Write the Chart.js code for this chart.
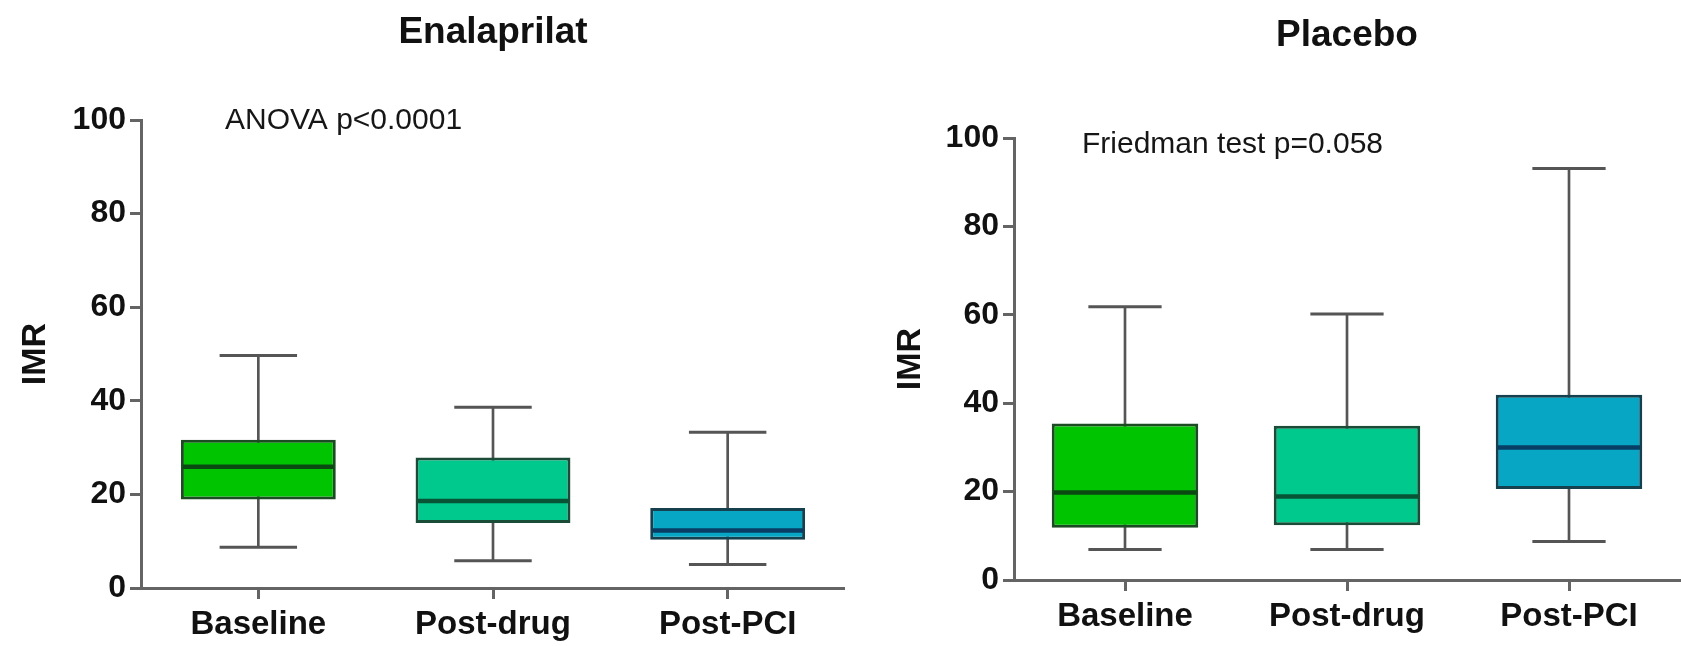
<!DOCTYPE html>
<html>
<head>
<meta charset="utf-8">
<script src="https://cdn.jsdelivr.net/npm/chart.js@4.4.1/dist/chart.umd.min.js"></script>
<style>
  html, body { margin: 0; padding: 0; background: #fff; overflow: hidden; }
  #wrap { position: relative; width: 1681px; height: 646px; }
  canvas { position: absolute; top: 0; }
</style>
</head>
<body>
<div id="wrap">
  <canvas id="enalaprilat" width="845" height="646" style="left:0px"></canvas>
  <canvas id="placebo" width="831" height="646" style="left:850px"></canvas>
</div>
<script>
// Categories and tick values
const categories = ['Baseline', 'Post-drug', 'Post-PCI'];
const yTickValues = [0, 20, 40, 60, 80, 100];

// Enalaprilat group: whisker ends, quartiles and median (IMR)
const enalLow    = [8.7, 5.8, 5.0];
const enalQ1     = [18.9, 13.9, 10.3];
const enalMedian = [25.9, 18.6, 12.3];
const enalQ3     = [31.7, 27.9, 17.1];
const enalHigh   = [49.7, 38.6, 33.3];

// Placebo group
const placLow    = [6.9, 6.9, 8.7];
const placQ1     = [11.8, 12.4, 20.6];
const placMedian = [19.8, 18.9, 30.0];
const placQ3     = [35.4, 34.9, 41.9];
const placHigh   = [61.8, 60.2, 93.1];

const FONT = "'Liberation Sans', Arial, Helvetica, sans-serif";
const boxFill   = ['#00c400', '#00c98d', '#06a6c4'];
const boxEdge   = ['#1c4a22', '#1b4c38', '#17404f'];
const medianCol = ['#0a4a12', '#075436', '#083e66'];
const whiskerCol = '#555555';
const axisCol = '#646464';
const BOX_FRACTION = 0.66;

// Draws the statistical note above the plot area
const notePlugin = {
  id: 'note',
  afterDraw(chart, args, opts) {
    const { ctx, chartArea, scales: { y } } = chart;
    ctx.save();
    ctx.font = opts.font;
    ctx.fillStyle = opts.color;
    ctx.textBaseline = 'middle';
    ctx.textAlign = 'left';
    ctx.fillText(opts.text, chartArea.left + opts.dx, y.getPixelForValue(y.max) + opts.dy);
    ctx.restore();
  }
};

function boxWidth(ctx) {
  const xs = ctx.chart.scales.x;
  return xs ? xs.width / categories.length * BOX_FRACTION : 100;
}

function buildBoxPlot(id, s) {
  const datasets = [
    { // whisker stems
      type: 'bar', label: 'range',
      data: s.low.map((v, i) => [v, s.high[i]]),
      backgroundColor: whiskerCol, borderWidth: 0,
      barThickness: 2, grouped: false, order: 4
    },
    { // interquartile box
      type: 'bar', label: 'IQR',
      data: s.q1.map((v, i) => [v, s.q3[i]]),
      backgroundColor: boxFill, borderColor: boxEdge, borderWidth: 3,
      borderSkipped: false, barPercentage: BOX_FRACTION, categoryPercentage: 1,
      grouped: false, order: 3
    },
    { // lower whisker caps
      type: 'line', label: 'min', data: s.low, showLine: false,
      pointStyle: 'line', pointRadius: c => boxWidth(c) / 4,
      pointBorderWidth: 3, pointBorderColor: whiskerCol, order: 2
    },
    { // upper whisker caps
      type: 'line', label: 'max', data: s.high, showLine: false,
      pointStyle: 'line', pointRadius: c => boxWidth(c) / 4,
      pointBorderWidth: 3, pointBorderColor: whiskerCol, order: 2
    },
    { // medians
      type: 'line', label: 'median', data: s.median, showLine: false,
      pointStyle: 'line', pointRadius: c => boxWidth(c) / 2 - 2,
      pointBorderWidth: 4.5, pointBorderColor: medianCol, order: 1
    }
  ];

  return new Chart(document.getElementById(id), {
    type: 'bar',
    data: { labels: categories, datasets },
    plugins: [notePlugin],
    options: {
      responsive: false,
      animation: false,
      events: [],
      layout: { padding: { left: 0, right: s.padRight, top: 0, bottom: 0 } },
      plugins: {
        legend: { display: false },
        tooltip: { enabled: false },
        title: {
          display: true, text: s.title, fullSize: false, color: '#111',
          font: { family: FONT, size: 37, weight: 'bold' },
          padding: { top: s.titleTop, bottom: s.titleBottom }
        },
        note: {
          text: s.note, dx: s.noteDx, dy: s.noteDy, color: '#161616',
          font: "30px " + FONT
        }
      },
      scales: {
        x: {
          type: 'category', offset: true,
          grid: { display: true, drawOnChartArea: false, drawTicks: true, offset: false,
                  tickLength: 11, color: axisCol, lineWidth: 3 },
          border: { display: true, color: axisCol, width: 3 },
          ticks: { color: '#111', padding: 6, maxRotation: 0, autoSkip: false,
                   font: { family: FONT, size: 33, weight: 'bold' } },
          afterFit(scale) { scale.height = s.xAxisHeight; }
        },
        y: {
          min: 0, max: 100,
          afterBuildTicks(scale) { scale.ticks = yTickValues.map(v => ({ value: v })); },
          grid: { display: true, drawOnChartArea: false, drawTicks: true,
                  tickLength: 11, color: axisCol, lineWidth: 3 },
          border: { display: true, color: axisCol, width: 3 },
          ticks: { color: '#111', padding: 4,
                   font: { family: FONT, size: 32, weight: 'bold' } },
          title: { display: true, text: 'IMR', color: '#111',
                   font: { family: FONT, size: 34, weight: 'bold' },
                   padding: { top: s.imrOffset, bottom: 0 } },
          afterFit(scale) { scale.width = s.yAxisWidth; }
        }
      }
    }
  });
}

buildBoxPlot('enalaprilat', {
  title: 'Enalaprilat', note: 'ANOVA p<0.0001',
  low: enalLow, q1: enalQ1, median: enalMedian, q3: enalQ3, high: enalHigh,
  yAxisWidth: 141, xAxisHeight: 58, padRight: 0,
  titleTop: 11, titleBottom: 64.6, imrOffset: 15.6,
  noteDx: 84, noteDy: 1
});

buildBoxPlot('placebo', {
  title: 'Placebo', note: 'Friedman test p=0.058',
  low: placLow, q1: placQ1, median: placMedian, q3: placQ3, high: placHigh,
  yAxisWidth: 164, xAxisHeight: 66, padRight: 1,
  titleTop: 14, titleBottom: 79.6, imrOffset: 40.6,
  noteDx: 68, noteDy: 7
});
</script>
</body>
</html>
